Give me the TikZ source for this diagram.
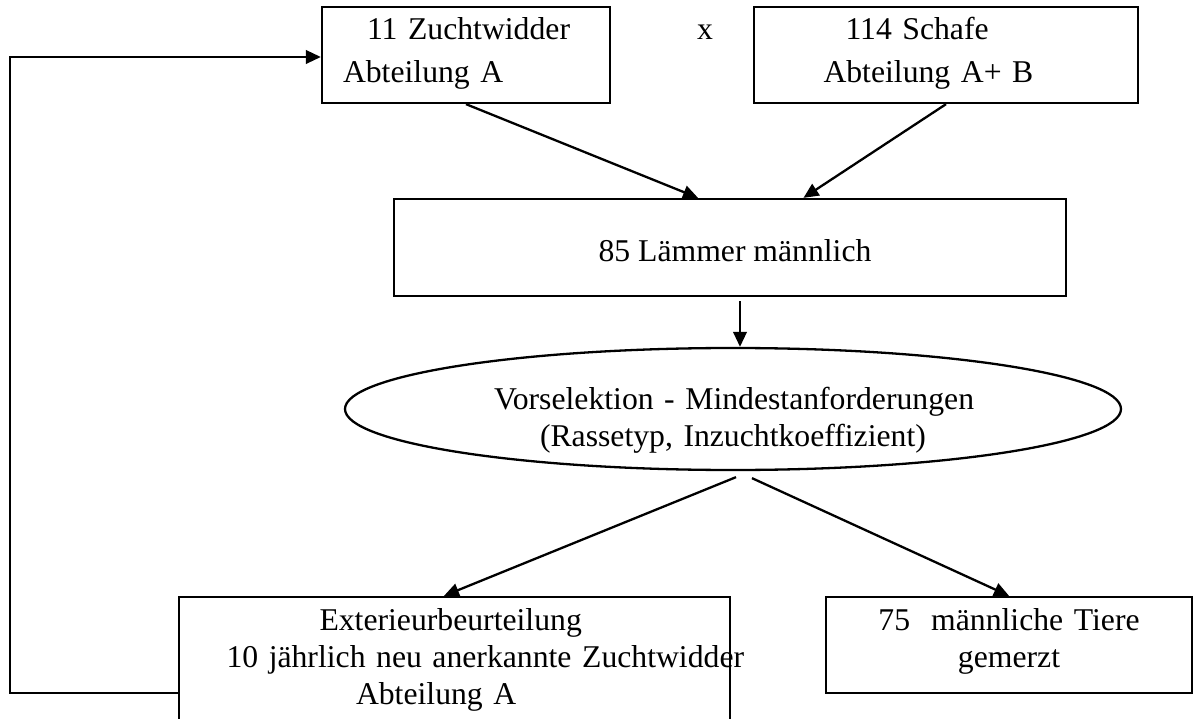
\documentclass[tikz,border=0pt]{standalone}
\usepackage{fontspec}
\setmainfont{Liberation Serif}
\usetikzlibrary{shapes.geometric,arrows.meta,calc}
\begin{document}
\begin{tikzpicture}[x=1pt,y=-1pt,
  box/.style={draw, line width=2.3pt, rectangle, inner sep=0pt},
  conn/.style={line width=2.3pt, -{Triangle[length=15pt,width=13.5pt]}},
  lbl/.style={font=\fontsize{31.7}{37}\selectfont},
  lbltop/.style={font=\fontsize{31.7}{43}\selectfont}]
\clip (0,0) rectangle (1202,719);
\fill[white] (0,0) rectangle (1202,719);

\node[box, lbltop, minimum width=288pt, minimum height=96pt, text width=246pt, align=left,
      text height=5pt, text depth=35pt] (zw) at (466,55)
  {\hspace*{24pt}11 Zuchtwidder\\Abteilung A};
\node[lbl, anchor=base] (cross) at (705,40) {x};
\node[box, lbltop, minimum width=384pt, minimum height=96pt, text width=245pt, align=left,
      text height=5pt, text depth=35pt] (sch) at (946,55)
  {\hspace*{22pt}114 Schafe\\Abteilung A+ B};

\node[box, lbl, minimum width=672pt, minimum height=97pt, text height=29pt, text depth=0pt] (lam) at (730,247.5)
  {\hspace*{10pt}85 Lämmer männlich};

\node[draw, line width=2.3pt, ellipse, minimum width=776pt, minimum height=122pt, inner sep=0pt,
      lbl, text width=478pt, align=left, text height=1pt, text depth=0pt] (ell) at (733,409)
  {\mbox{Vorselektion - Mindestanforderungen}\\\hspace*{46pt}\mbox{(Rassetyp, Inzuchtkoeffizient)}};

\node[box, lbl, minimum width=551pt, minimum height=130pt, text width=456pt, align=left,
      text height=0pt, text depth=64pt] (ext) at (454.5,662)
  {\hspace*{93pt}Exterieurbeurteilung\\\mbox{10 jährlich neu anerkannte Zuchtwidder}\\\hspace*{129.5pt}Abteilung A};

\node[box, lbl, minimum width=366pt, minimum height=96pt, text width=340pt, align=center,
      text height=5pt, text depth=35pt] (mz) at (1009,645)
  {\mbox{75\ \ männliche Tiere}\\gemerzt};

\coordinate (lb) at (10,693);
\coordinate (lt) at (10,57);

\draw[conn] (zw.south) -- ($(lam.north)+(-32,0)$);
\draw[conn] (sch.south) -- ($(lam.north)+(73.5,0)$);
\draw[conn] ($(lam.south)+(10,4)$) -- ($(ell.north)+(7,0)$);
\draw[conn] ($(ell.south)+(3,6)$) -- ($(ext.north)+(-10.5,0)$);
\draw[conn] ($(ell.south)+(19,7)$) -- (mz.north);
\draw[conn, line join=miter] (ext.west |- lb) -- (lb) -- (lt) -- (zw.west |- lt);
\end{tikzpicture}
\end{document}
